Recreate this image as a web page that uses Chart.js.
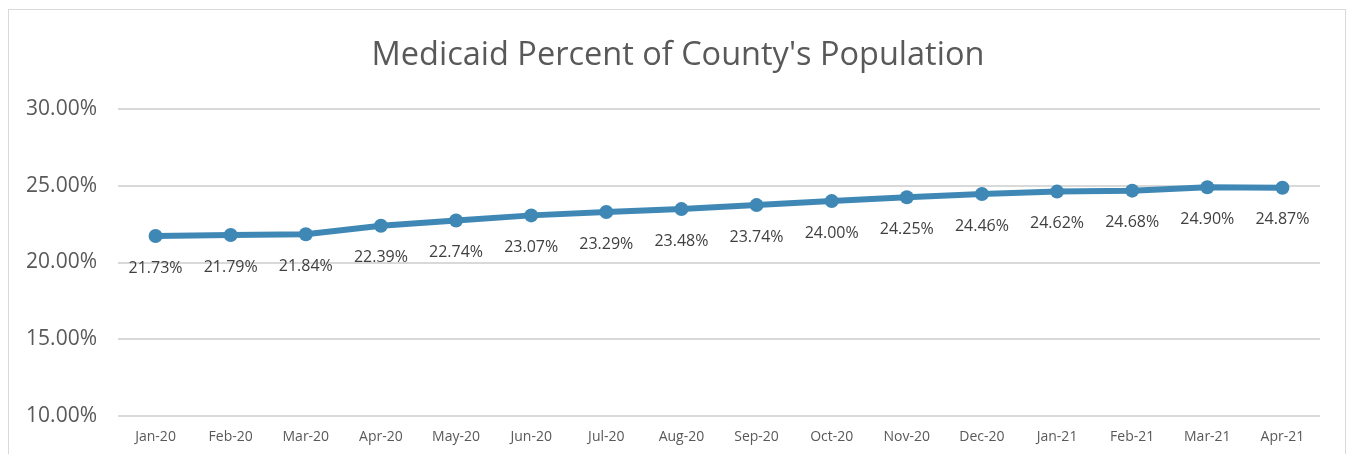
<!DOCTYPE html>
<html>
<head>
<meta charset="utf-8">
<script src="https://cdn.jsdelivr.net/npm/chart.js@4.4.1/dist/chart.umd.min.js"></script>
<style>
    html, body { margin: 0; padding: 0; background: #fff; }
    #wrap { position: relative; width: 1350px; height: 454px; overflow: hidden; }
    #frame { position: absolute; left: 8px; top: 9px; width: 1338px; height: 460px; border: 1px solid #d9d9d9; box-sizing: border-box; }
    canvas { position: absolute; left: 0; top: 0; }
</style>
</head>
<body>
<div id="wrap">
    <div id="frame"></div>
    <canvas id="medicaid-chart" width="1350" height="454"></canvas>
</div>
<script>
const months = ["Jan-20", "Feb-20", "Mar-20", "Apr-20", "May-20", "Jun-20", "Jul-20", "Aug-20",
    "Sep-20", "Oct-20", "Nov-20", "Dec-20", "Jan-21", "Feb-21", "Mar-21", "Apr-21"];
const percentOfPopulation = [21.73, 21.79, 21.84, 22.39, 22.74, 23.07, 23.29, 23.48,
    23.74, 24.00, 24.25, 24.46, 24.62, 24.68, 24.90, 24.87];
const yTicks = [10, 15, 20, 25, 30];

const fontFamily = "'Open Sans', 'Noto Sans', sans-serif";

// labels under each point, like excel data labels
const pointLabels = {
    id: 'pointLabels',
    afterDatasetsDraw(chart) {
        const ctx = chart.ctx;
        const meta = chart.getDatasetMeta(0);
        ctx.save();
        ctx.font = "16px " + fontFamily;
        ctx.fillStyle = "#404040";
        ctx.textAlign = "center";
        ctx.textBaseline = "middle";
        meta.data.forEach(function (pt, i) {
            ctx.fillText(percentOfPopulation[i].toFixed(2) + "%", pt.x, pt.y + 32);
        });
        ctx.restore();
    }
};

const ctx = document.getElementById("medicaid-chart");
const graph = new Chart(ctx, {
    type: 'line',
    data: {
        labels: months,
        datasets: [
            {
                label: "Medicaid Percent",
                data: percentOfPopulation,
                borderColor: "#3f88b5",
                backgroundColor: "#3f88b5",
                borderWidth: 6,
                pointRadius: 7,
                pointBorderWidth: 0,
                tension: 0,
                fill: false
            }
        ]
    },
    options: {
        responsive: false,
        animation: false,
        layout: {
            padding: { left: 6, right: 0, top: 0, bottom: 0 }
        },
        plugins: {
            legend: { display: false },
            tooltip: { enabled: false },
            title: {
                display: true,
                text: "Medicaid Percent of County's Population",
                color: "#595959",
                font: { family: fontFamily, size: 32.5, weight: 'normal' },
                padding: { top: 36, bottom: 34 }
            }
        },
        scales: {
            x: {
                offset: true,
                grid: { display: false },
                border: { display: false },
                afterFit(scale) {
                    scale.height = 38;
                },
                ticks: {
                    color: "#595959",
                    font: { family: fontFamily, size: 14 },
                    padding: 5,
                    maxRotation: 0
                }
            },
            y: {
                min: 10,
                max: 30,
                afterBuildTicks(scale) {
                    scale.ticks = yTicks.map(v => ({ value: v }));
                },
                afterFit(scale) {
                    scale.width = 112;
                },
                grid: { color: "#d9d9d9", lineWidth: 2, drawTicks: false },
                border: { display: false },
                ticks: {
                    color: "#595959",
                    font: { family: fontFamily, size: 21 },
                    padding: 21,
                    callback: v => v.toFixed(2) + "%"
                }
            },
            // empty right axis, only keeps the right margin
            yRight: {
                position: 'right',
                min: 10,
                max: 30,
                afterFit(scale) {
                    scale.width = 30;
                },
                grid: { display: false },
                border: { display: false },
                ticks: { display: false }
            }
        }
    },
    plugins: [pointLabels]
});
</script>
</body>
</html>
